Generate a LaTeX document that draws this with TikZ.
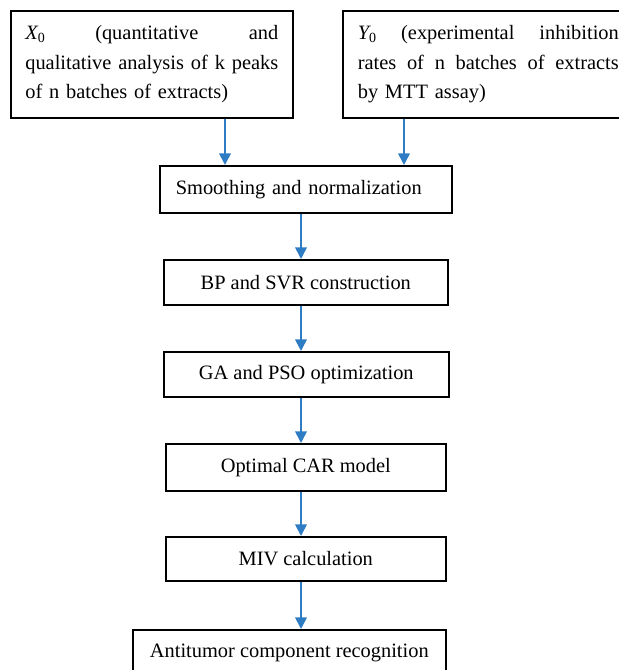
\documentclass[tikz,border=0pt]{standalone}
\usepackage{fontspec}
\setmainfont{Liberation Serif}
\usetikzlibrary{arrows.meta}
\definecolor{arrowblue}{RGB}{46,125,196}
\newcommand{\subz}{\raisebox{-0.3ex}{\fontsize{14}{14}\selectfont 0}}
\newcommand{\jline}[2]{\leavevmode\hbox to #1{#2}}
\begin{document}
\begin{tikzpicture}[x=1pt,y=1pt,
  box/.style={draw=black, line width=1.6pt, anchor=north west, inner sep=0pt,
    font=\fontsize{20.4}{29.5}\selectfont},
  flow/.style={draw=arrowblue, line width=1.7pt, -{Triangle[width=11.5pt,length=11.5pt]}}]
\useasboundingbox (0,0) rectangle (619,670);
\clip (0,0) rectangle (619,670);
\node[box, minimum width=282, minimum height=107, text width=253, align=left] (x) at (10,660)
  {\jline{253pt}{{\itshape X}\subz\hfill(quantitative\hfill and}\\
   \jline{253pt}{qualitative\hfill analysis\hfill of\hfill k\hfill peaks}\\
   of n batches of extracts)};
\node[box, minimum width=291, minimum height=107, text width=261, align=left] (y) at (342,660)
  {\jline{261pt}{{\itshape Y}\subz\hfill(experimental\hfill inhibition}\\
   \jline{261pt}{rates\hfill of\hfill n\hfill batches\hfill of\hfill extracts}\\
   by MTT assay)};
\node[box, minimum width=292, minimum height=47, text width=260, align=left] (s) at (159,505) {Smoothing and normalization};
\node[box, minimum width=284, minimum height=45] (bp) at (163,411) {BP and SVR construction};
\node[box, minimum width=285, minimum height=45] (ga) at (163,319) {GA and PSO optimization};
\node[box, minimum width=280, minimum height=47] (car) at (165,227) {Optimal CAR model};
\node[box, minimum width=280, minimum height=44] (miv) at (165,134) {MIV calculation};
\node[box, minimum width=313, minimum height=46] (ar) at (132,41) {Antitumor component recognition};
\coordinate (cx) at (225,0);
\coordinate (cy) at (404,0);
\coordinate (cm) at (301,0);
\draw[flow] (x.south -| cx) -- (s.north -| cx);
\draw[flow] (y.south -| cy) -- (s.north -| cy);
\draw[flow] (s.south -| cm) -- (bp.north -| cm);
\draw[flow] (bp.south -| cm) -- (ga.north -| cm);
\draw[flow] (ga.south -| cm) -- (car.north -| cm);
\draw[flow] (car.south -| cm) -- (miv.north -| cm);
\draw[flow] (miv.south -| cm) -- (ar.north -| cm);
\end{tikzpicture}
\end{document}
